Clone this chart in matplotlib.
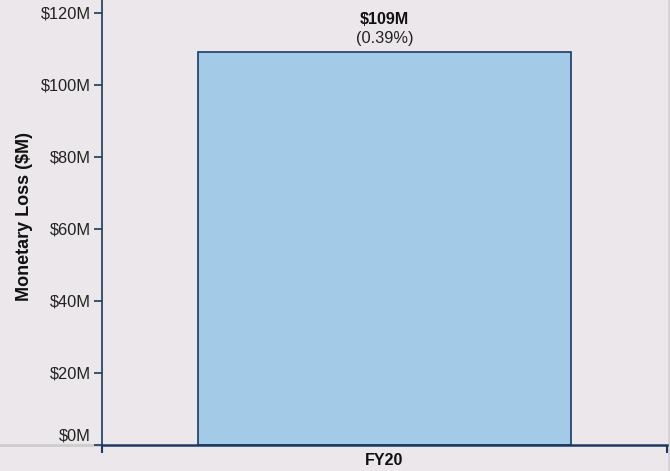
import matplotlib.pyplot as plt
from matplotlib.lines import Line2D
from matplotlib.transforms import ScaledTranslation

plt.rcParams['font.family'] = ['Liberation Sans', 'DejaVu Sans']

# monetary loss per fiscal year
years = ['FY20']
loss_m = [109]
loss_pct = [0.39]
y_ticks = [0, 20, 40, 60, 80, 100, 120]

bg = '#ebe7ea'
navy = '#1b3a63'

fig = plt.figure(figsize=(6.7, 4.71), dpi=100, facecolor=bg)
ax = fig.add_axes([102 / 670, 26.5 / 471, 565 / 670, 444.5 / 471])
ax.set_facecolor(bg)

xs = list(range(len(years)))
ax.bar(xs, loss_m, width=0.66, color='#a3cbe8', edgecolor=navy, linewidth=1.2, zorder=2)

for x, v, p in zip(xs, loss_m, loss_pct):
    ax.annotate(f'${v}M', (x, v), xytext=(0, 33), textcoords='offset pixels',
                ha='center', va='center', fontsize=11.6, fontweight='bold', color='#111111')
    ax.annotate(f'({p:.2f}%)', (x, v), xytext=(0, 14), textcoords='offset pixels',
                ha='center', va='center', fontsize=11.8, color='#222222')

ax.set_xlim(-0.5, len(years) - 0.5)
ax.set_ylim(0, 123.5)

ax.set_yticks(y_ticks)
ax.set_yticklabels([f'${t}M' for t in y_ticks], fontsize=11.8, color='#222222')
ax.tick_params(axis='y', length=6, width=1.2, color=navy, pad=2)

# category label in the middle, ticks on band edges
ax.set_xticks(xs)
ax.set_xticklabels(years, fontsize=11.5, fontweight='bold', color='#111111')
ax.tick_params(axis='x', length=0, pad=6)
ax.set_xticks([-0.5, len(years) - 0.5], minor=True)
ax.tick_params(axis='x', which='minor', length=6, width=1.5, color=navy)

# nudge the $0M label up off the baseline
zero_lbl = ax.get_yticklabels()[0]
zero_lbl.set_transform(zero_lbl.get_transform() + ScaledTranslation(0, 7 / 72, fig.dpi_scale_trans))

ax.set_ylabel('Monetary Loss ($M)', fontsize=13, fontweight='bold', color='#111111')
ax.yaxis.set_label_coords(-0.123, 0.514)

for side in ['top', 'right']:
    ax.spines[side].set_visible(False)
ax.spines['left'].set_color(navy)
ax.spines['left'].set_linewidth(1.2)
ax.spines['bottom'].set_color(navy)
ax.spines['bottom'].set_linewidth(1.8)

# faint frame lines
fig.add_artist(Line2D([0, 102 / 670], [26.5 / 471, 26.5 / 471], color='#cdcdcd', lw=2, zorder=0))
fig.add_artist(Line2D([668.5 / 670, 668.5 / 670], [0, 1], color='#d5d3d5', lw=2, zorder=0))

fig.savefig('out.png', dpi=100, facecolor=bg)
